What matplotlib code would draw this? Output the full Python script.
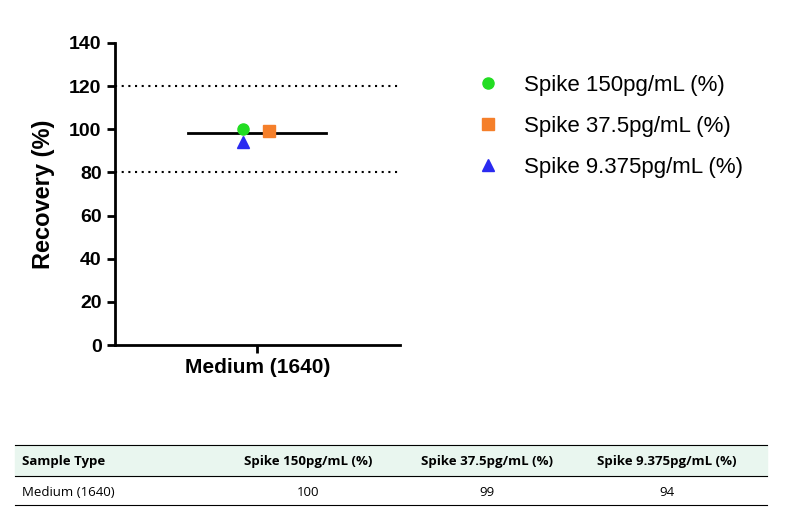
import matplotlib
matplotlib.use("Agg")
import matplotlib.pyplot as plt

plt.rcParams["font.family"] = ["Liberation Sans", "DejaVu Sans"]

category = "Medium (1640)"
series = ["Spike 150pg/mL (%)", "Spike 37.5pg/mL (%)", "Spike 9.375pg/mL (%)"]
values = [100, 99, 94]
colors = ["#22dd22", "#f57f2a", "#2a2af0"]
markers = ["o", "s", "^"]
offsets = [-0.1, 0.08, -0.1]
mean_value = 98
limits = [80, 120]
yticks = [0, 20, 40, 60, 80, 100, 120, 140]

fig = plt.figure(figsize=(7.86, 5.07), dpi=100)
ax = fig.add_axes([0.146, 0.3195, 0.363, 0.596])

for lim in limits:
    ax.axhline(lim, color="black", linestyle=(0, (1, 2.2)), linewidth=1.5)
ax.plot([-0.49, 0.48], [mean_value, mean_value], color="black", linewidth=2)
for s, v, c, m, o in zip(series, values, colors, markers, offsets):
    ax.plot(o, v, marker=m, color=c, markersize=8, linestyle="none", label=s)

ax.set_xlim(-1, 1)
ax.set_ylim(0, 140)
ax.set_yticks(yticks)
ax.set_xticks([0])
ax.set_xticklabels([category], fontsize=15, fontweight="bold")
ax.tick_params(axis="y", labelsize=14, width=2, length=6)
ax.tick_params(axis="x", width=2, length=6)
for lab in ax.get_yticklabels():
    lab.set_fontweight("bold")
ax.set_ylabel("Recovery (%)", fontsize=17, fontweight="bold", labelpad=10)
ax.spines["top"].set_visible(False)
ax.spines["right"].set_visible(False)
ax.spines["left"].set_linewidth(2)
ax.spines["bottom"].set_linewidth(2)

ax.legend(loc="upper left", bbox_to_anchor=(1.16, 0.96), frameon=False,
          fontsize=16, handletextpad=0.6, labelspacing=0.9)

# table below the chart
tfont = ["Open Sans", "DejaVu Sans"]
fig.add_artist(plt.Rectangle((15 / 786, 1 - 476 / 507), 752 / 786, 31 / 507,
                             transform=fig.transFigure, color="#e9f6ef", zorder=0))
for y in [445, 476, 505]:
    fig.add_artist(plt.Line2D([15 / 786, 767 / 786], [1 - y / 507] * 2,
                              transform=fig.transFigure, color="black", linewidth=0.8))
hy = 1 - 462 / 507
ry = 1 - 493 / 507
fig.text(22 / 786, hy, "Sample Type", fontsize=9.5, fontweight="bold", va="center", family=tfont)
fig.text(22 / 786, ry, category, fontsize=9.5, va="center", family=tfont)
for x, s, v in zip([308, 487, 667], series, values):
    fig.text(x / 786, hy, s, fontsize=9.5, fontweight="bold", va="center", ha="center", family=tfont)
    fig.text(x / 786, ry, str(v), fontsize=9.5, va="center", ha="center", family=tfont)

fig.savefig("out.png", dpi=100)
